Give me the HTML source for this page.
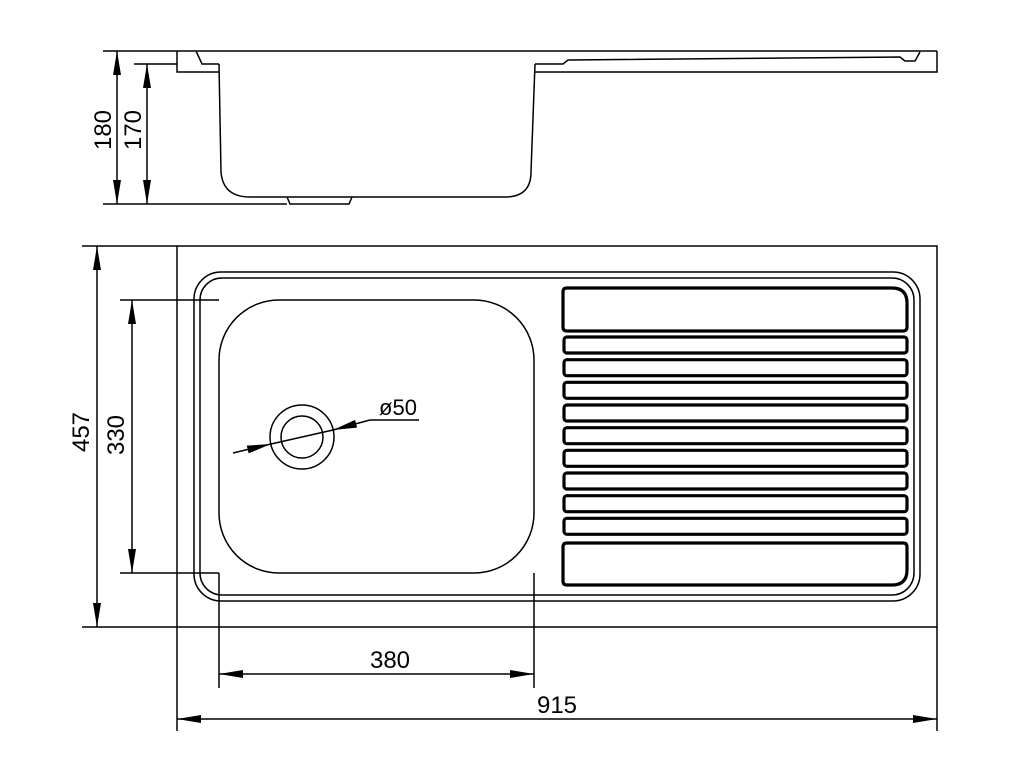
<!DOCTYPE html>
<html><head><meta charset="utf-8"><style>html,body{margin:0;padding:0;background:#fff}svg{display:block}</style></head>
<body>
<svg width="1024" height="768" viewBox="0 0 1024 768" xmlns="http://www.w3.org/2000/svg">
<defs>
<marker id="a" viewBox="0 0 24 8" refX="24" refY="4" markerWidth="24" markerHeight="8" markerUnits="userSpaceOnUse" orient="auto-start-reverse"><path d="M0,0 L24,4 L0,8 Z" fill="#000"/></marker>
</defs>
<g fill="none" stroke="#000" stroke-width="1.5">
<line x1="103" y1="51" x2="937" y2="51"/>
<line x1="134" y1="64" x2="177" y2="64"/>
<path d="M177,51 L177,72 L219,72"/>
<path d="M196,51 L202,64 L219,64"/>
<path d="M219,64 L221,172 Q223,197 250,197 L505,197 Q531,197 531,172 L535,64"/>
<path d="M535,64 L563,64 L568,60 L900,57 L905,61 L915,61 L920,52"/>
<path d="M937,51 L937,72 L535,72"/>
<path d="M287,197 L290,204 L349,204 L352,197"/>
<line x1="103" y1="204" x2="287" y2="204"/>
<line x1="117" y1="51" x2="117" y2="204" marker-start="url(#a)" marker-end="url(#a)"/>
<line x1="147" y1="64" x2="147" y2="204" marker-start="url(#a)" marker-end="url(#a)"/>
<rect x="177" y="246" width="760" height="381"/>
<line x1="82" y1="246" x2="177" y2="246"/>
<line x1="82" y1="627" x2="177" y2="627"/>
<rect x="194" y="272" width="726" height="329" rx="27"/>
<rect x="200" y="278" width="714" height="317" rx="22"/>
<rect x="219" y="300" width="315" height="273" rx="60"/>
<line x1="120" y1="300" x2="219" y2="300"/>
<line x1="120" y1="573" x2="219" y2="573"/>
<line x1="97" y1="246" x2="97" y2="627" marker-start="url(#a)" marker-end="url(#a)"/>
<line x1="132" y1="300" x2="132" y2="573" marker-start="url(#a)" marker-end="url(#a)"/>
<circle cx="302" cy="437" r="32"/>
<circle cx="302" cy="437" r="21"/>
<line x1="233" y1="453" x2="271" y2="444" marker-end="url(#a)"/>
<line x1="271" y1="444" x2="333" y2="430"/>
<line x1="370" y1="420" x2="333" y2="430" marker-end="url(#a)"/>
<path d="M370,420 L419,420"/>
<line x1="219" y1="573" x2="219" y2="688"/>
<line x1="534" y1="573" x2="534" y2="688"/>
<line x1="219" y1="674" x2="534" y2="674" marker-start="url(#a)" marker-end="url(#a)"/>
<line x1="177" y1="627" x2="177" y2="731"/>
<line x1="937" y1="627" x2="937" y2="731"/>
<line x1="177" y1="719" x2="937" y2="719" marker-start="url(#a)" marker-end="url(#a)"/>
</g>
<g fill="none" stroke="#000" stroke-width="3.2">
<path d="M567,288 L892,288 Q907,288 907,303 L907,327 Q907,331 903,331 L567,331 Q563,331 563,327 L563,292 Q563,288 567,288 Z"/>
<rect x="564" y="337" width="343" height="16" rx="3"/>
<rect x="564" y="359.7" width="343" height="16" rx="3"/>
<rect x="564" y="382.3" width="343" height="16" rx="3"/>
<rect x="564" y="405" width="343" height="16" rx="3"/>
<rect x="564" y="427.7" width="343" height="16" rx="3"/>
<rect x="564" y="450.3" width="343" height="16" rx="3"/>
<rect x="564" y="473" width="343" height="16" rx="3"/>
<rect x="564" y="495.7" width="343" height="16" rx="3"/>
<rect x="564" y="518.3" width="343" height="16" rx="3"/>
<path d="M567,543 L903,543 Q907,543 907,547 L907,570 Q907,585 892,585 L567,585 Q563,585 563,581 L563,547 Q563,543 567,543 Z"/>
</g>
<g font-family="Liberation Sans, sans-serif" font-size="24" fill="#000" text-anchor="middle">
<text x="390" y="668">380</text>
<text x="557" y="713">915</text>
<text x="398" y="415" font-size="22">ø50</text>
<text transform="translate(89,432) rotate(-90)">457</text>
<text transform="translate(124,435) rotate(-90)">330</text>
<text transform="translate(111,130) rotate(-90)">180</text>
<text transform="translate(141,130) rotate(-90)">170</text>
</g>
</svg>
</body></html>
